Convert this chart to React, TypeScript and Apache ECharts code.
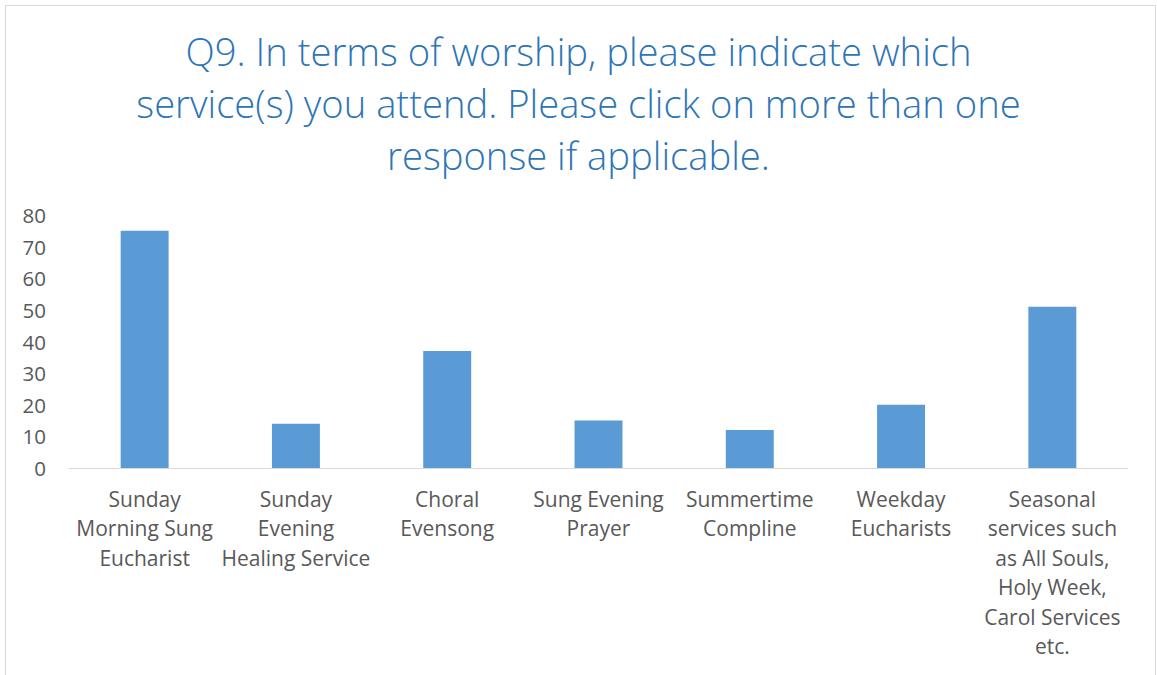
import React, { useEffect, useRef } from "react";
import * as echarts from "echarts";

const titleText =
  "Q9. In terms of worship, please indicate which\nservice(s) you attend. Please click on more than one\nresponse if applicable.";

const categories = [
  "Sunday\nMorning Sung\nEucharist",
  "Sunday\nEvening\nHealing Service",
  "Choral\nEvensong",
  "Sung Evening\nPrayer",
  "Summertime\nCompline",
  "Weekday\nEucharists",
  "Seasonal\nservices such\nas All Souls,\nHoly Week,\nCarol Services\netc.",
];

const responses = [75, 14, 37, 15, 12, 20, 51];

const yTicks = { min: 0, max: 80, interval: 10 };

export default function App() {
  const ref = useRef<HTMLDivElement>(null);

  useEffect(() => {
    if (!ref.current) return;
    const chart = echarts.init(ref.current, null, { renderer: "svg" });
    chart.setOption({
      animation: false,
      backgroundColor: "#ffffff",
      title: {
        text: titleText,
        left: "center",
        top: 20,
        textStyle: {
          fontFamily: "Open Sans",
          fontSize: 38.2,
          fontWeight: 300,
          color: "#2E75B6",
          lineHeight: 52,
          align: "center",
        },
      },
      graphic: [
        {
          type: "rect",
          shape: { x: 5.5, y: 5.5, width: 1150, height: 700 },
          style: { fill: "none", stroke: "#d9d9d9", lineWidth: 1 },
          silent: true,
          z: -1,
        },
      ],
      grid: { left: 69, right: 29, top: 215, bottom: 207, containLabel: false },
      xAxis: {
        type: "category",
        data: categories,
        axisLine: { show: true, lineStyle: { color: "#d9d9d9", width: 1 } },
        axisTick: { show: false },
        axisLabel: {
          interval: 0,
          margin: 16,
          color: "#595959",
          fontFamily: "Open Sans",
          fontSize: 21,
          lineHeight: 29.5,
          align: "center",
          verticalAlign: "top",
        },
      },
      yAxis: {
        type: "value",
        min: yTicks.min,
        max: yTicks.max,
        interval: yTicks.interval,
        splitLine: { show: false },
        axisLine: { show: false },
        axisTick: { show: false },
        axisLabel: {
          margin: 23,
          color: "#595959",
          fontFamily: "Open Sans",
          fontSize: 20.5,
        },
      },
      series: [
        {
          type: "bar",
          data: responses,
          barWidth: "31.7%",
          itemStyle: { color: "#5B9BD5" },
        },
      ],
    });
    return () => chart.dispose();
  }, []);

  return (
    <div
      ref={ref}
      style={{ position: "fixed", left: 0, top: 0, width: 1157, height: 675 }}
    />
  );
}
